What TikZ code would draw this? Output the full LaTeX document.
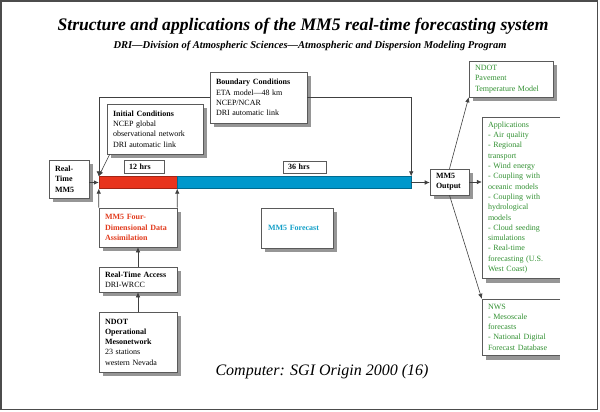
\documentclass[tikz,border=0pt]{standalone}
\usepackage{fontspec}
\setmainfont{Liberation Serif}
\usetikzlibrary{arrows.meta,shadows}

\definecolor{barred}{RGB}{232,52,28}
\definecolor{barblue}{RGB}{0,152,204}
\definecolor{txtred}{RGB}{226,60,30}
\definecolor{txtblue}{RGB}{20,160,200}
\definecolor{txtgreen}{RGB}{50,145,50}
\definecolor{shadowc}{RGB}{150,150,150}
\definecolor{edge}{RGB}{90,90,90}

\begin{document}
\begin{tikzpicture}[x=1pt,y=-1pt,
  box/.style={draw=edge, fill=white, line width=0.6pt,
    drop shadow={shadow xshift=4pt,shadow yshift=-4pt,fill=shadowc,opacity=1},
    font=\fontsize{8}{10.3}\selectfont, align=left, inner xsep=6pt, inner ysep=0pt},
  boldtxt/.style={font=\fontsize{8}{10.3}\selectfont\bfseries},
  plainbox/.style={draw=edge, fill=white, line width=0.6pt,
    font=\fontsize{8}{10.3}\selectfont\bfseries, align=left, inner xsep=5pt, inner ysep=0pt},
  openbox/.style={fill=white, font=\fontsize{8}{10.3}\selectfont, align=left,
    inner xsep=6pt, inner ysep=0pt, text=txtgreen},
  bar/.style={draw=#1!70!black, fill=#1, line width=0.4pt, minimum height=12pt, inner sep=0pt},
  arr/.style={draw=black!75, line width=0.6pt, -{Latex[length=5pt,width=4.5pt]}},
]
\fill[white] (0,0) rectangle (600,412);
\useasboundingbox (0,0) rectangle (600,412);
\draw[line width=1.5pt, black!70] (1,1) rectangle (597.5,409.5);

% titles
\node[anchor=base, font=\fontsize{17.6}{20}\selectfont\bfseries\itshape] (title) at (303,31)
  {Structure and applications of the MM5 real-time forecasting system};
\node[anchor=base, font=\fontsize{10.5}{12}\selectfont\bfseries\itshape] (sub) at (310,49)
  {DRI—Division of Atmospheric Sciences—Atmospheric and Dispersion Modeling Program};
\node[anchor=base, font=\fontsize{16}{18}\selectfont\itshape] (comp) at (322,375)
  {Computer: SGI Origin 2000 (16)};

% boxes
\node[box, boldtxt, text width=28pt, minimum height=38pt] (rt) at (69,179) {Real-\\Time\\MM5};
\node[box, text width=84pt, minimum height=50pt] (ic) at (155,129)
  {\textbf{Initial Conditions}\\NCEP global\\observational network\\DRI automatic link};
\node[box, text width=85pt, minimum height=51pt] (bnd) at (258.5,97.5)
  {\textbf{Boundary Conditions}\\ETA model—48 km\\NCEP/NCAR\\DRI automatic link};
\node[plainbox, text width=30pt, minimum height=13pt] (h12) at (144,166.5) {12 hrs};
\node[plainbox, text width=33pt, minimum height=12pt] (h36) at (304.5,167) {36 hrs};

\node[bar=barred, minimum width=78pt] (redbar) at (138,182.5) {};
\node[bar=barblue, minimum width=234pt] (bluebar) at (294,182.5) {};

\node[box, boldtxt, text=txtred, text width=66pt, minimum height=39pt] (fdda) at (138,227.5)
  {MM5 Four-\\Dimensional Data\\Assimilation};
\node[box, text width=66pt, minimum height=25pt] (rta) at (138,279.5)
  {\textbf{Real-Time Access}\\DRI-WRCC};
\node[box, text width=66pt, minimum height=60pt] (ndot) at (138,342)
  {\textbf{NDOT}\\\textbf{Operational}\\\textbf{Mesonetwork}\\23 stations\\western Nevada};
\node[box, boldtxt, text=txtblue, text width=58pt, inner xsep=7pt, minimum height=40pt] (fc) at (297,228)
  {MM5 Forecast};
\node[box, boldtxt, text width=27pt, minimum height=26pt] (out) at (449.5,182) {MM5\\Output};
\node[box, text=txtgreen, text width=72pt, minimum height=36pt] (pave) at (511,79)
  {NDOT\\Pavement\\Temperature Model};

\node[openbox, text width=66pt, minimum height=161pt] (apps) at (521,197.5)
  {Applications\\- Air quality\\- Regional\\transport\\- Wind energy\\- Coupling with\\oceanic models\\- Coupling with\\hydrological\\models\\- Cloud seeding\\simulations\\- Real-time\\forecasting (U.S.\\West Coast)};
\fill[shadowc] ([xshift=4pt]apps.south west) rectangle ([yshift=-4.5pt]apps.south east);
\draw[edge, line width=0.6pt] (apps.north east) -- (apps.north west) -- (apps.south west) -- (apps.south east);

\node[openbox, text width=66pt, minimum height=56pt] (nws) at (521,327)
  {NWS\\- Mesoscale\\forecasts\\- National Digital\\Forecast Database};
\fill[shadowc] ([xshift=4pt]nws.south west) rectangle ([yshift=-4.5pt]nws.south east);
\draw[edge, line width=0.6pt] (nws.north east) -- (nws.north west) -- (nws.south west) -- (nws.south east);

% connectors
\draw[arr] (rt.east |- redbar.west) -- (redbar.west);
\draw[arr] (bnd.west) -| (redbar.north west);
\draw[arr] (bnd.east) -| (bluebar.north east);
\draw[arr] ([xshift=3pt]ic.south west) -- (redbar.north west);
\draw[arr] (fdda.north west) -- (redbar.south west);
\draw[arr] (fdda.north east) -- (redbar.south east);
\draw[arr] (rta.north) -- (fdda.south);
\draw[arr] (ndot.north) -- (rta.south);
\draw[arr] (bluebar.east) -- (out.west |- bluebar.east);
\draw[arr] (out.north) -- (pave.south west);
\draw[arr] (out.east) -- (out.east -| apps.west);
\draw[arr] (out.south) -- (nws.north west);
\end{tikzpicture}
\end{document}
